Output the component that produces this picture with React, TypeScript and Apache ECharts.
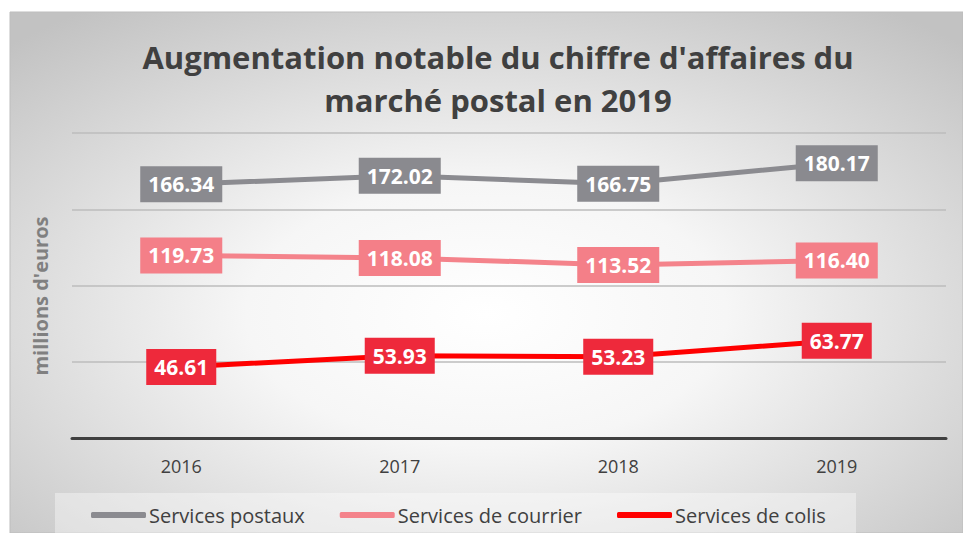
import React, { useEffect, useRef } from "react";
import * as echarts from "echarts";

const categories = ["2016", "2017", "2018", "2019"];
const postaux = [166.34, 172.02, 166.75, 180.17];
const courrier = [119.73, 118.08, 113.52, 116.4];
const colis = [46.61, 53.93, 53.23, 63.77];
const seriesNames = ["Services postaux", "Services de courrier", "Services de colis"];
const lineColors = ["#8b8b90", "#f4838b", "#ff0000"];
const labelColors = ["#8a8a8f", "#f47f88", "#ee293b"];

const FONT = "'Open Sans', sans-serif";

export default function App() {
  const ref = useRef<HTMLDivElement>(null);
  useEffect(() => {
    if (!ref.current) return;
    const chart = echarts.init(ref.current, undefined, { renderer: "svg" });
    const datasets = [postaux, courrier, colis];
    chart.setOption({
      animation: false,
      backgroundColor: "#ffffff",
      textStyle: { fontFamily: FONT },
      title: {
        text: "Augmentation notable du chiffre d'affaires du\nmarché postal en 2019",
        left: 493,
        top: 30,
        textAlign: "center",
        textStyle: {
          fontFamily: FONT,
          fontSize: 31,
          fontWeight: "bold",
          color: "#404040",
          lineHeight: 43,
        },
      },
      graphic: [
        {
          type: "rect",
          z: -10,
          shape: { x: 10, y: 12, width: 953, height: 521 },
          style: {
            fill: new echarts.graphic.RadialGradient(0.5, 0.58, 0.72, [
              { offset: 0, color: "#ffffff" },
              { offset: 0.35, color: "#f6f6f6" },
              { offset: 1, color: "#c2c2c2" },
            ]),
            stroke: "#bdbdbd",
            lineWidth: 1,
          },
        },
        {
          type: "rect",
          z: -5,
          shape: { x: 55, y: 493, width: 801, height: 45 },
          style: { fill: "rgba(255,255,255,0.38)" },
        },
        {
          type: "text",
          x: 40,
          y: 296,
          rotation: Math.PI / 2,
          style: {
            text: "millions d'euros",
            fontFamily: FONT,
            fontSize: 20,
            fontWeight: "bold",
            fill: "#808080",
            align: "center",
            verticalAlign: "middle",
          },
        },
      ],
      legend: {
        left: 86,
        top: 500,
        itemGap: 35,
        itemWidth: 55,
        itemHeight: 6,
        icon: "roundRect",
        data: seriesNames,
        textStyle: { fontFamily: FONT, fontSize: 20, color: "#404040", padding: [0, 0, 0, -2] },
      },
      grid: { left: 72, right: 17, top: 133, bottom: 95 },
      xAxis: {
        type: "category",
        data: categories,
        boundaryGap: true,
        axisTick: { show: false },
        axisLine: { lineStyle: { color: "#404040", width: 3 } },
        axisLabel: { fontFamily: FONT, fontSize: 18, color: "#404040", margin: 19 },
      },
      yAxis: {
        type: "value",
        min: 0,
        max: 200,
        interval: 50,
        axisLabel: { show: false },
        axisLine: { show: false },
        axisTick: { show: false },
        splitLine: { lineStyle: { color: "#bcbcbc", width: 1.5 } },
      },
      series: datasets.map((d, i) => ({
        name: seriesNames[i],
        type: "line",
        data: d,
        symbol: "circle",
        symbolSize: 1,
        showSymbol: true,
        lineStyle: { color: lineColors[i], width: 5 },
        itemStyle: { color: lineColors[i] },
        label: {
          show: true,
          position: "inside",
          formatter: (p: any) => Number(p.value).toFixed(2),
          fontFamily: FONT,
          fontSize: 21,
          fontWeight: "bold",
          color: "#ffffff",
          backgroundColor: labelColors[i],
          padding: [8, 8, 7, 8],
        },
      })),
    });
    return () => chart.dispose();
  }, []);
  return (
    <div
      ref={ref}
      style={{ width: 963, height: 533, position: "fixed", left: 0, top: 0 }}
    />
  );
}
